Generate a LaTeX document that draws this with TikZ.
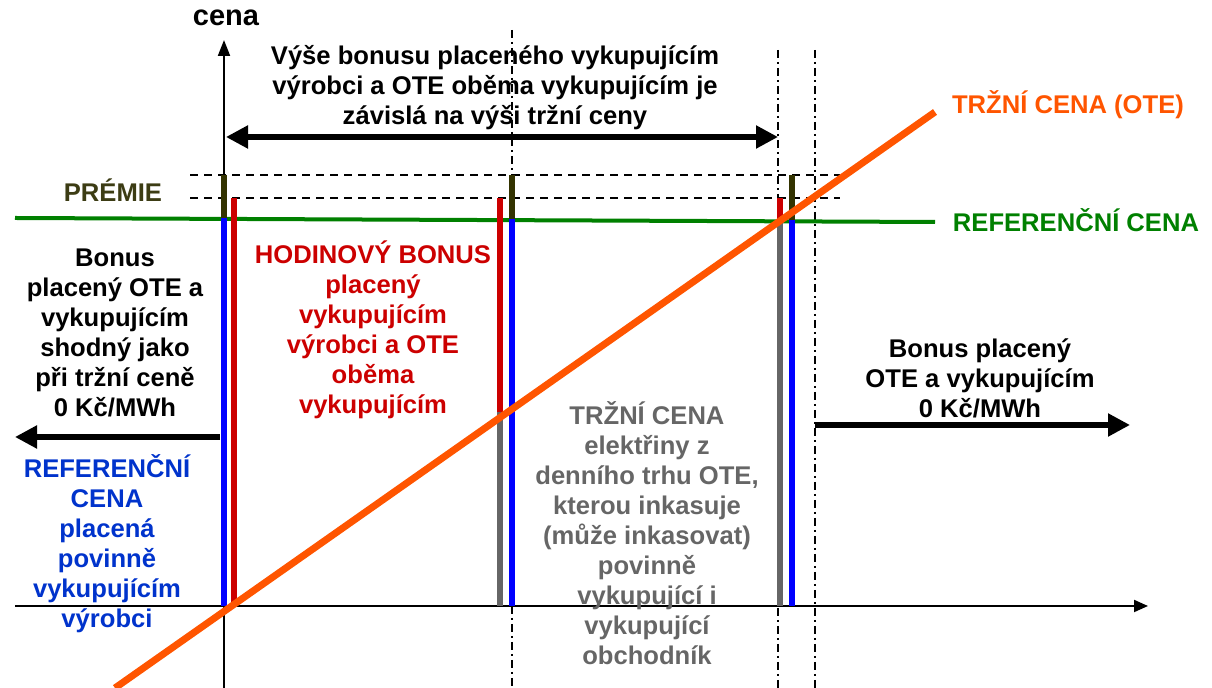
\documentclass[tikz,border=0pt]{standalone}
\usepackage{fontspec}
\setmainfont{Liberation Sans}
\usetikzlibrary{arrows.meta}

\definecolor{trzni}{RGB}{255,85,0}
\definecolor{refgreen}{RGB}{0,128,0}
\definecolor{bonusred}{RGB}{204,0,0}
\definecolor{refblue}{RGB}{0,0,255}
\definecolor{reftext}{RGB}{0,51,204}
\definecolor{cenagray}{RGB}{102,102,102}
\definecolor{premie}{RGB}{51,51,0}
\definecolor{premietext}{RGB}{60,60,20}

\tikzset{
  bar/.style={line width=3.4pt},
  txt/.style={font=\fontsize{12.8}{15}\selectfont\bfseries, align=center, inner sep=0pt},
  bigarrow/.style={line width=2.6pt, -{Triangle[length=11pt,width=11pt]}},
  guide/.style={line width=0.7pt, dash pattern=on 4pt off 3pt},
  helper/.style={line width=0.7pt, dash pattern=on 4pt off 2pt on 1pt off 2pt}
}

\begin{document}
\begin{tikzpicture}[x=0.5pt,y=-0.5pt]
\useasboundingbox (0,0) rectangle (1212,688);

% axes
\coordinate (yBottom) at (224,688);
\coordinate (yTop) at (224,40);
\coordinate (xLeft) at (15,606);
\coordinate (xRight) at (1148,606);
\draw[line width=1pt, -{Triangle[length=7pt,width=6pt]}] (xLeft) -- (xRight);
\draw[line width=1pt, -{Triangle[length=8pt,width=6pt]}] (yBottom) -- (yTop);
\node[txt, font=\fontsize{14.5}{16}\selectfont\bfseries] (cena) at (226,18) {cena};

% premie levels and helper lines
\draw[guide] (190,175) -- (840,175);
\draw[guide] (190,198) -- (840,198);
\draw[helper] (512,30) -- (512,688);
\draw[helper] (778,50) -- (778,688);
\draw[helper] (815,50) -- (815,688);

% reference price
\draw[refgreen, line width=2pt] (15,218) -- (935,222);

% bars at zero market price
\draw[bar, refblue] (224,218) -- (224,606);
\draw[bar, premie] (224,175) -- (224,218);
\draw[bar, bonusred] (234,198) -- (234,606);

% bars in the middle
\draw[bar, bonusred] (500,198) -- (500,412);
\draw[bar, cenagray] (500,412) -- (500,606);
\draw[bar, premie] (512,175) -- (512,219);
\draw[bar, refblue] (512,219) -- (512,606);

% bars at the crossing
\draw[bar, bonusred] (780,198) -- (780,220);
\draw[bar, cenagray] (780,220) -- (780,606);
\draw[bar, premie] (792,175) -- (792,220);
\draw[bar, refblue] (792,220) -- (792,606);

% market price
\draw[trzni, line width=3.5pt] (115,688) -- (935,112);

% arrows
\coordinate (rozsahL) at (226,137);
\coordinate (rozsahR) at (778,137);
\draw[bigarrow, {Triangle[length=11pt,width=11pt]}-{Triangle[length=11pt,width=11pt]}] (rozsahL) -- (rozsahR);
\coordinate (levyStart) at (220,437);
\coordinate (levyEnd) at (15,437);
\draw[bigarrow] (levyStart) -- (levyEnd);
\coordinate (pravyStart) at (815,425);
\coordinate (pravyEnd) at (1130,425);
\draw[bigarrow] (pravyStart) -- (pravyEnd);

% labels
\node[txt] (vyse) at (495,88) {Výše bonusu placeného vykupujícím\\výrobci a OTE oběma vykupujícím je\\závislá na výši tržní ceny};
\node[txt, trzni] (trzniLbl) at (1068,105) {TRŽNÍ CENA (OTE)};
\node[txt, refgreen] (refLbl) at (1076,220) {REFERENČNÍ CENA};
\node[txt, premietext] (premieLbl) at (113,190) {PRÉMIE};
\node[txt] (bonusNula) at (115,333) {Bonus\\placený OTE a\\vykupujícím\\shodný jako\\při tržní ceně\\0 Kč/MWh};
\node[txt, reftext] (refCena) at (107,544) {REFERENČNÍ\\CENA\\placená\\povinně\\vykupujícím\\výrobci};
\node[txt, bonusred] (hodinovy) at (373,330) {HODINOVÝ BONUS\\placený\\vykupujícím\\výrobci a OTE\\oběma\\vykupujícím};
\node[txt, cenagray] (trzniCena) at (647,533) {TRŽNÍ CENA\\elektřiny z\\denního trhu OTE,\\kterou inkasuje\\(může inkasovat)\\povinně\\vykupující i\\vykupující\\obchodník};
\node[txt] (bonusPravy) at (980,378) {Bonus placený\\OTE a vykupujícím\\0 Kč/MWh};
\end{tikzpicture}
\end{document}
